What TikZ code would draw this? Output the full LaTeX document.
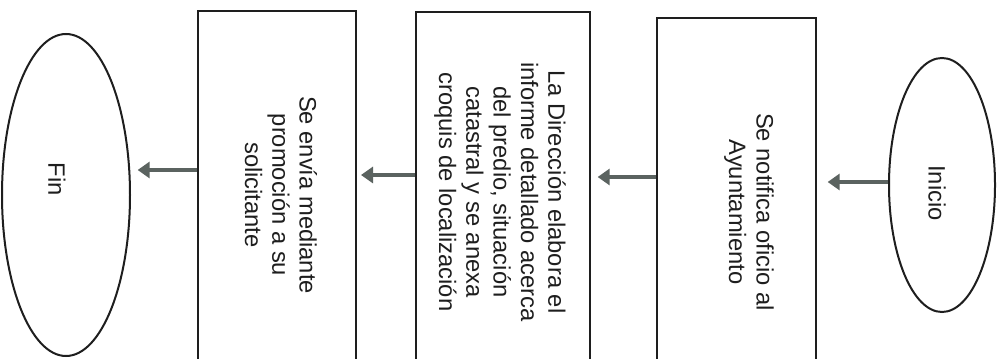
\documentclass[tikz,border=0pt]{standalone}
\usepackage{fontspec}
\setmainfont{Liberation Sans}
\usetikzlibrary{arrows.meta,shapes.geometric}
\definecolor{inkc}{HTML}{1E1E1E}
\definecolor{arrc}{HTML}{5B6360}
\begin{document}
\begin{tikzpicture}[x=0.75pt,y=-0.75pt,
  shapebox/.style={draw=inkc,line width=1.5pt,rectangle,inner sep=0pt},
  oval/.style={draw=inkc,line width=1.5pt,ellipse,inner sep=0pt},
  txt/.style={rotate=-90,align=center,inner sep=0pt,font=\fontsize{17.8}{20.5}\selectfont,text=inkc},
  arr/.style={draw=arrc,line width=3pt,-{Triangle[length=9pt,width=12pt]}}]
\useasboundingbox (0,0) rectangle (1006,359);
\clip (0,0) rectangle (1006,359);
\fill[white] (0,0) rectangle (1006,359);
% shapes
\node[oval,minimum width=128*0.75pt,minimum height=322*0.75pt] (fin) at (66,195) {};
\node[shapebox,minimum width=158*0.75pt,minimum height=368*0.75pt] (box3) at (277,195) {};
\node[shapebox,minimum width=174*0.75pt,minimum height=368*0.75pt] (box2) at (503,196) {};
\node[shapebox,minimum width=159*0.75pt,minimum height=388*0.75pt] (box1) at (736.5,212) {};
\node[oval,minimum width=106*0.75pt,minimum height=254*0.75pt] (inicio) at (942,185) {};
% texts
\node[txt] (tfin) at (57,179) {Fin};
\node[txt] (t3) at (281,195) {Se envía mediante\\promoción a su\\solicitante};
\node[txt] (t2) at (500,192) {La Dirección elabora el\\informe detallado acerca\\del predio, situación\\catastral y se anexa\\croquis de localización};
\node[txt] (t1) at (749,212) {Se notifica oficio al\\Ayuntamiento};
\node[txt] (tini) at (937,193) {Inicio};
% connectors
\draw[arr,shorten >=8pt] (inicio.west |- 0,182) -- (box1.east |- 0,182);
\draw[arr,shorten >=5pt] (box1.west |- 0,177) -- (box2.east |- 0,177);
\draw[arr,shorten >=3pt] (box2.west |- 0,175) -- (box3.east |- 0,175);
\draw[arr,shorten >=5pt] (box3.west |- 0,170) -- (fin.east |- 0,170);
\end{tikzpicture}
\end{document}
